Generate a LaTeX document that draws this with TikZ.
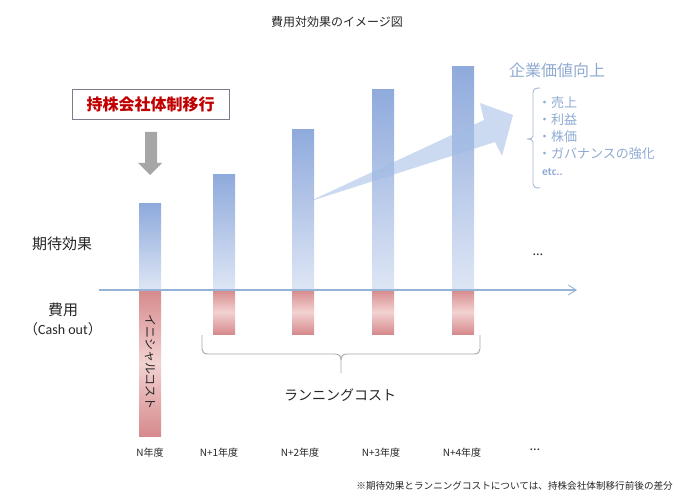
\documentclass[tikz,border=0pt]{standalone}
\usepackage{fontspec}
\setmainfont{Noto Sans CJK JP}
\newfontfamily\lat{Carlito}
\usetikzlibrary{arrows.meta}
\definecolor{bluetop}{RGB}{143,170,220}
\definecolor{bluebot}{RGB}{222,230,245}
\definecolor{redtop}{RGB}{214,138,140}
\definecolor{redmid}{RGB}{242,210,210}
\definecolor{axiscol}{RGB}{149,179,215}
\definecolor{txtblue}{RGB}{143,170,210}
\definecolor{bracecol}{RGB}{166,184,210}
\definecolor{graycol}{RGB}{166,166,166}
\definecolor{boxcol}{RGB}{128,120,140}
\definecolor{darkred}{RGB}{192,0,0}
\definecolor{txt}{RGB}{38,38,38}
\tikzset{
  benefit/.style={top color=bluetop,bottom color=bluebot,draw=none},
  costbar/.style={top color=redtop,bottom color=redtop,middle color=redmid,draw=none},
  yearlbl/.style={font=\fontsize{10}{12}\selectfont,text=txt,inner sep=0pt},
  listitem/.style={font=\fontsize{13}{15}\selectfont,text=txtblue,anchor=west,inner sep=0pt},
  sidelbl/.style={font=\fontsize{15}{17}\selectfont,text=txt,inner sep=0pt},
  dotslbl/.style={font=\lat\fontsize{14}{16}\selectfont,text=txt,inner sep=0pt},
}
\begin{document}
\begin{tikzpicture}[x=1pt,y=-1pt]
\useasboundingbox (0,0) rectangle (700,502);
% title
\node[font=\fontsize{12}{14}\selectfont,text=txt] (title) at (337,22) {費用対効果のイメージ図};
% benefit bars
\shade[benefit] (139,204) rectangle (161,290);
\shade[benefit] (213,175) rectangle (235,290);
\shade[benefit] (292,130) rectangle (314,290);
\shade[benefit] (372,90) rectangle (394,290);
\shade[benefit] (452,67) rectangle (474,290);
% cost bars
\shade[costbar] (139,290) rectangle (161,436);
\shade[costbar] (213,290) rectangle (235,334);
\shade[costbar] (292,290) rectangle (314,334);
\shade[costbar] (372,290) rectangle (394,334);
\shade[costbar] (452,290) rectangle (474,334);
% axis
\coordinate (axL) at (99,290);
\coordinate (axR) at (577,290);
\draw[axiscol,line width=1.2pt,-{Straight Barb[length=8pt,width=10pt,line width=0.9pt]}] (axL) -- (axR);
% big translucent arrow
\fill[color={rgb,255:red,160;green,188;blue,228},fill opacity=0.55]
  (308,202) -- (484,120) -- (480,103) -- (513,115) -- (502,156) -- (495,142) -- cycle;
% holding company box
\node[draw=boxcol,line width=0.8pt,minimum width=157pt,minimum height=30pt,inner sep=0pt,
  font=\fontsize{16}{18}\selectfont\bfseries,text=darkred] (box) at (150.5,104) {持株会社体制移行};
% gray down arrow
\fill[graycol] (145,132) -- (157,132) -- (157,163) -- (162,163) -- (150,175) -- (138,163) -- (145,163) -- cycle;
% corporate value
\node[font=\fontsize{16}{18}\selectfont,text=txtblue,inner sep=0pt] (cv) at (557,70) {企業価値向上};
\draw[bracecol,line width=0.9pt] (540,88) .. controls (535,88) and (533,89) .. (533,93) -- (533,136)
  .. controls (533,138) and (531,139) .. (527,139) .. controls (531,139) and (533,140) .. (533,142)
  -- (533,184) .. controls (533,187) and (535,188) .. (540,188);
\node[listitem] (l1) at (538,103) {・売上};
\node[listitem] (l2) at (538,120) {・利益};
\node[listitem] (l3) at (538,137) {・株価};
\node[listitem] (l4) at (538,154) {・ガバナンスの強化};
\node[font=\lat\fontsize{11.5}{13}\selectfont\bfseries,text=txtblue,anchor=west,inner sep=0pt] (l5) at (542,172) {etc..};
% dots
\node[dotslbl] (dots1) at (538,255) {…};
% side labels
\node[sidelbl] (kitai) at (62,244) {期待効果};
\node[sidelbl] (hiyo) at (63,310) {費用};
\node[font=\fontsize{14}{16}\selectfont,text=txt,inner sep=0pt] (cash) at (63,329) {（\lat Cash out\rmfamily）};
% initial cost vertical
\node[rotate=-90,font=\fontsize{12}{14}\selectfont,text=txt,inner sep=0pt] (init) at (150,362) {イニシャルコスト};
% running cost brace
\draw[graycol,line width=0.9pt] (202,335) -- (202,349) .. controls (202,352) and (204,354) .. (208,354)
  -- (335,354) .. controls (339,354) and (341,356) .. (341,360) -- (341,373);
\draw[graycol,line width=0.9pt] (480,335) -- (480,349) .. controls (480,352) and (478,354) .. (474,354)
  -- (347,354) .. controls (343,354) and (341,356) .. (341,360);
\node[font=\fontsize{14}{16}\selectfont,text=txt,inner sep=0pt] (run) at (340,395) {ランニングコスト};
% year labels
\node[yearlbl] (y0) at (150,453) {N年度};
\node[yearlbl] (y1) at (219,453) {N+1年度};
\node[yearlbl] (y2) at (300,453) {N+2年度};
\node[yearlbl] (y3) at (381,453) {N+3年度};
\node[yearlbl] (y4) at (462,453) {N+4年度};
\node[dotslbl] (y5) at (535,450) {…};
% footnote
\node[font=\fontsize{9.6}{11}\selectfont,text=txt,anchor=east,inner sep=0pt] (note) at (673,486) {※期待効果とランニングコストについては、持株会社体制移行前後の差分};
\end{tikzpicture}
\end{document}
